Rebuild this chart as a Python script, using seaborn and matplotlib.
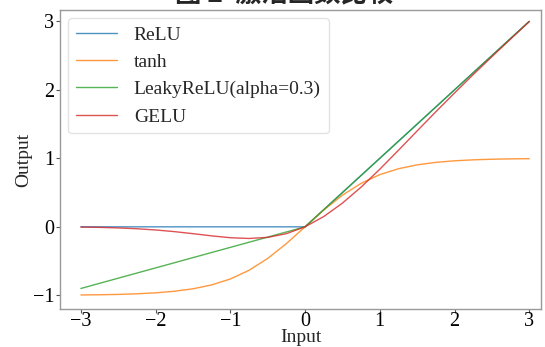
import matplotlib
matplotlib.use("Agg")
import matplotlib.pyplot as plt
import seaborn as sns
import pandas as pd

x_vals = [-3, -2.75, -2.5, -2.25, -2, -1.75, -1.5, -1.25, -1, -0.75, -0.5, -0.25,
          0, 0.25, 0.5, 0.75, 1, 1.25, 1.5, 1.75, 2, 2.25, 2.5, 2.75, 3]
relu = [0, 0, 0, 0, 0, 0, 0, 0, 0, 0, 0, 0,
        0, 0.25, 0.5, 0.75, 1, 1.25, 1.5, 1.75, 2, 2.25, 2.5, 2.75, 3]
tanh = [-0.995, -0.992, -0.987, -0.978, -0.964, -0.941, -0.905, -0.848, -0.762, -0.635, -0.462, -0.245,
        0, 0.245, 0.462, 0.635, 0.762, 0.848, 0.905, 0.941, 0.964, 0.978, 0.987, 0.992, 0.995]
leaky = [-0.9, -0.825, -0.75, -0.675, -0.6, -0.525, -0.45, -0.375, -0.3, -0.225, -0.15, -0.075,
         0, 0.25, 0.5, 0.75, 1, 1.25, 1.5, 1.75, 2, 2.25, 2.5, 2.75, 3]
gelu = [-0.004, -0.008, -0.016, -0.028, -0.046, -0.070, -0.100, -0.132, -0.159, -0.170, -0.154, -0.100,
        0, 0.150, 0.346, 0.580, 0.841, 1.118, 1.400, 1.680, 1.954, 2.223, 2.484, 2.742, 2.996]
series_names = ["ReLU", "tanh", "LeakyReLU(alpha=0.3)", "GELU"]
series_values = [relu, tanh, leaky, gelu]
colors = ["#1f77b4", "#ff7f0e", "#2ca02c", "#d62728"]
title_text = "图 2  激活函数比较"

rows = []
for name, vals in zip(series_names, series_values):
    for xv, yv in zip(x_vals, vals):
        rows.append({"Input": xv, "Output": yv, "func": name})
df = pd.DataFrame(rows)

sns.set_theme(style="ticks")
plt.rcParams["font.family"] = ["Liberation Serif", "DejaVu Serif"]
plt.rcParams["axes.unicode_minus"] = True

fig = plt.figure(figsize=(5.45, 3.47), dpi=100)
ax = fig.add_axes([0.110, 0.1095, 0.883, 0.8605])

sns.lineplot(data=df, x="Input", y="Output", hue="func", hue_order=series_names,
             palette=colors, linewidth=1.0, alpha=0.8, ax=ax, legend=True)

ax.set_xlim(-3.28, 3.16)
ax.set_ylim(-1.2, 3.16)
ax.set_xticks([-3, -2, -1, 0, 1, 2, 3])
ax.set_yticks([-1, 0, 1, 2, 3])
ax.tick_params(labelsize=14.5, length=3, width=0.8, colors="#555555", labelcolor="black")
ax.tick_params(axis="x", pad=-1)
ax.tick_params(axis="y", pad=1)
for sp in ax.spines.values():
    sp.set_visible(True)
    sp.set_color("#999999")
    sp.set_linewidth(1.0)
ax.set_xlabel("Input", fontsize=14)
ax.set_ylabel("Output", fontsize=14)
ax.xaxis.set_label_coords(0.5, -0.066)
ax.yaxis.set_label_coords(-0.058, 0.5)

leg = ax.legend(loc="upper left", fontsize=14, frameon=True, handlelength=2.15,
                borderaxespad=0.4, labelspacing=0.5, handletextpad=0.85)
leg.get_frame().set_edgecolor("#e0e0e0")
leg.get_frame().set_alpha(0.9)

fig.text(0.521, 1 - 8 / 347, title_text, ha="center", va="bottom", fontsize=19,
         fontweight="bold", family=["Noto Sans CJK SC", "DejaVu Sans"])

fig.savefig("out.png", dpi=100)
